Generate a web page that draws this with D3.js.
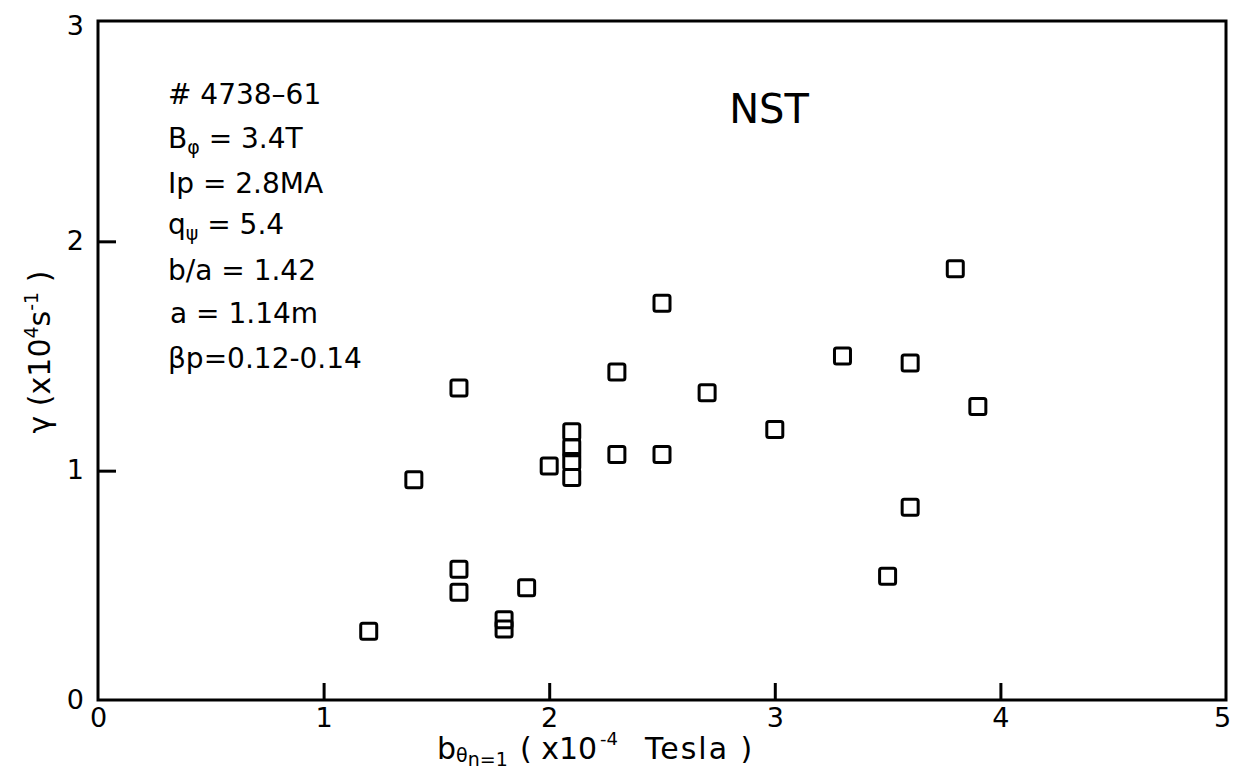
<!DOCTYPE html>
<html>
<head>
<meta charset="utf-8">
<script src="https://cdn.jsdelivr.net/npm/d3@7"></script>
<style>
  body { margin: 0; background: #fff; }
  svg text { font-family: 'DejaVu Sans', sans-serif; fill: #000; }
</style>
</head>
<body>
<div id="chart"></div>
<script>
// b_theta (x10^-4 T) and growth rate gamma (x10^4 1/s)
var bTheta = [1.2, 1.4, 1.6, 1.6, 1.6, 1.8, 1.8, 1.9, 2.0, 2.1, 2.1, 2.1, 2.1,
              2.3, 2.3, 2.5, 2.5, 2.7, 3.0, 3.3, 3.5, 3.6, 3.6, 3.8, 3.9];
var gamma  = [0.30, 0.96, 1.36, 0.57, 0.47, 0.35, 0.31, 0.49, 1.02, 1.17, 1.10, 1.04, 0.97,
              1.43, 1.07, 1.73, 1.07, 1.34, 1.18, 1.50, 0.54, 1.47, 0.84, 1.88, 1.28];
var xTicks = [0, 1, 2, 3, 4, 5];
var yTicks = [0, 1, 2, 3];

var width = 1242, height = 773;
var plotLeft = 98, plotRight = 1226, plotBottom = 700, plotTop = 21;

var svg = d3.select('#chart').append('svg')
    .attr('width', width)
    .attr('height', height);

var x = d3.scaleLinear().domain([0, 5]).range([plotLeft, plotRight]);
var y = d3.scaleLinear().domain([0, 3]).range([plotBottom, 12]);

// frame
svg.append('rect')
    .attr('x', plotLeft)
    .attr('y', plotTop)
    .attr('width', plotRight - plotLeft)
    .attr('height', plotBottom - plotTop)
    .attr('fill', 'none')
    .attr('stroke', '#000')
    .attr('stroke-width', 3);

// x axis, ticks point inward
var gx = svg.append('g')
    .attr('transform', `translate(0, ${plotBottom})`)
    .call(d3.axisBottom(x).tickValues(xTicks).tickSize(-17).tickPadding(7).tickFormat(d3.format('d')));
gx.select('.domain').remove();
gx.selectAll('.tick line')
    .attr('stroke', '#000')
    .attr('stroke-width', 3)
    .style('display', d => (d === 0 || d === 5) ? 'none' : null);
gx.selectAll('.tick text')
    .attr('font-size', 27)
    .attr('dy', '0.75em')
    .attr('dx', d => d === 5 ? -4 : 0);

// y axis
var gy = svg.append('g')
    .attr('transform', `translate(${plotLeft}, 0)`)
    .call(d3.axisLeft(y).tickValues(yTicks).tickSize(-18).tickPadding(14).tickFormat(d3.format('d')));
gy.select('.domain').remove();
gy.selectAll('.tick line')
    .attr('stroke', '#000')
    .attr('stroke-width', 3)
    .style('display', d => (d === 0 || d === 3) ? 'none' : null);
gy.selectAll('.tick text')
    .attr('font-size', 27)
    .attr('dy', d => d === 3 ? '0.85em' : '0.3em');

// squares
var sq = 16;
svg.append('g').selectAll('rect')
    .data(bTheta.map((b, i) => [b, gamma[i]]))
    .join('rect')
    .attr('x', d => x(d[0]) - sq / 2)
    .attr('y', d => y(d[1]) - sq / 2)
    .attr('width', sq)
    .attr('height', sq)
    .attr('rx', 2)
    .attr('fill', 'none')
    .attr('stroke', '#000')
    .attr('stroke-width', 3);

// NST label
svg.append('text')
    .attr('x', 769)
    .attr('y', 123)
    .attr('text-anchor', 'middle')
    .attr('font-size', 40)
    .text('NST');

// parameter block
var info = svg.append('g').attr('font-size', 28);
var lx = 168;

info.append('text').attr('x', lx).attr('y', 104).text('# 4738\u201361');

var t2 = info.append('text').attr('x', lx).attr('y', 148);
t2.append('tspan').text('B');
t2.append('tspan').attr('font-size', 19).attr('dy', 6).text('\u03c6');
t2.append('tspan').attr('dy', -6).text(' = 3.4T');

info.append('text').attr('x', lx).attr('y', 193).text('Ip  = 2.8MA');

var t4 = info.append('text').attr('x', lx).attr('y', 234);
t4.append('tspan').text('q');
t4.append('tspan').attr('font-size', 19).attr('dy', 6).text('\u03c8');
t4.append('tspan').attr('dy', -6).text(' = 5.4');

info.append('text').attr('x', lx).attr('y', 280).text('b/a = 1.42');
info.append('text').attr('x', lx + 2).attr('y', 323).text('a  = 1.14m');
info.append('text').attr('x', lx).attr('y', 368).text('\u03b2p=0.12-0.14');

// x axis title, in pieces so it sits under the tick labels like the original
var xTitle = svg.append('g').attr('font-size', 30);
var xt = xTitle.append('text').attr('x', 437).attr('y', 759);
xt.append('tspan').text('b');
xt.append('tspan').attr('font-size', 19).attr('dy', 3).text('\u03b8');
xt.append('tspan').attr('font-size', 19).attr('dy', 4).text('n=1');
xTitle.append('text').attr('x', 520).attr('y', 759).text('( x10');
xTitle.append('text').attr('x', 600).attr('y', 745).attr('font-size', 18).text('-4');
xTitle.append('text').attr('x', 645).attr('y', 759).attr('letter-spacing', 2).text('Tesla  )');

// y axis title
var yt = svg.append('text')
    .attr('transform', 'translate(50, 352) rotate(-90)')
    .attr('text-anchor', 'middle')
    .attr('font-size', 30);
yt.append('tspan').text('\u03b3 (x10');
yt.append('tspan').attr('font-size', 19).attr('dy', -12).text('4');
yt.append('tspan').attr('dy', 12).text('s');
yt.append('tspan').attr('font-size', 19).attr('dy', -12).text('-1');
yt.append('tspan').attr('dy', 12).text(' )');
</script>
</body>
</html>
